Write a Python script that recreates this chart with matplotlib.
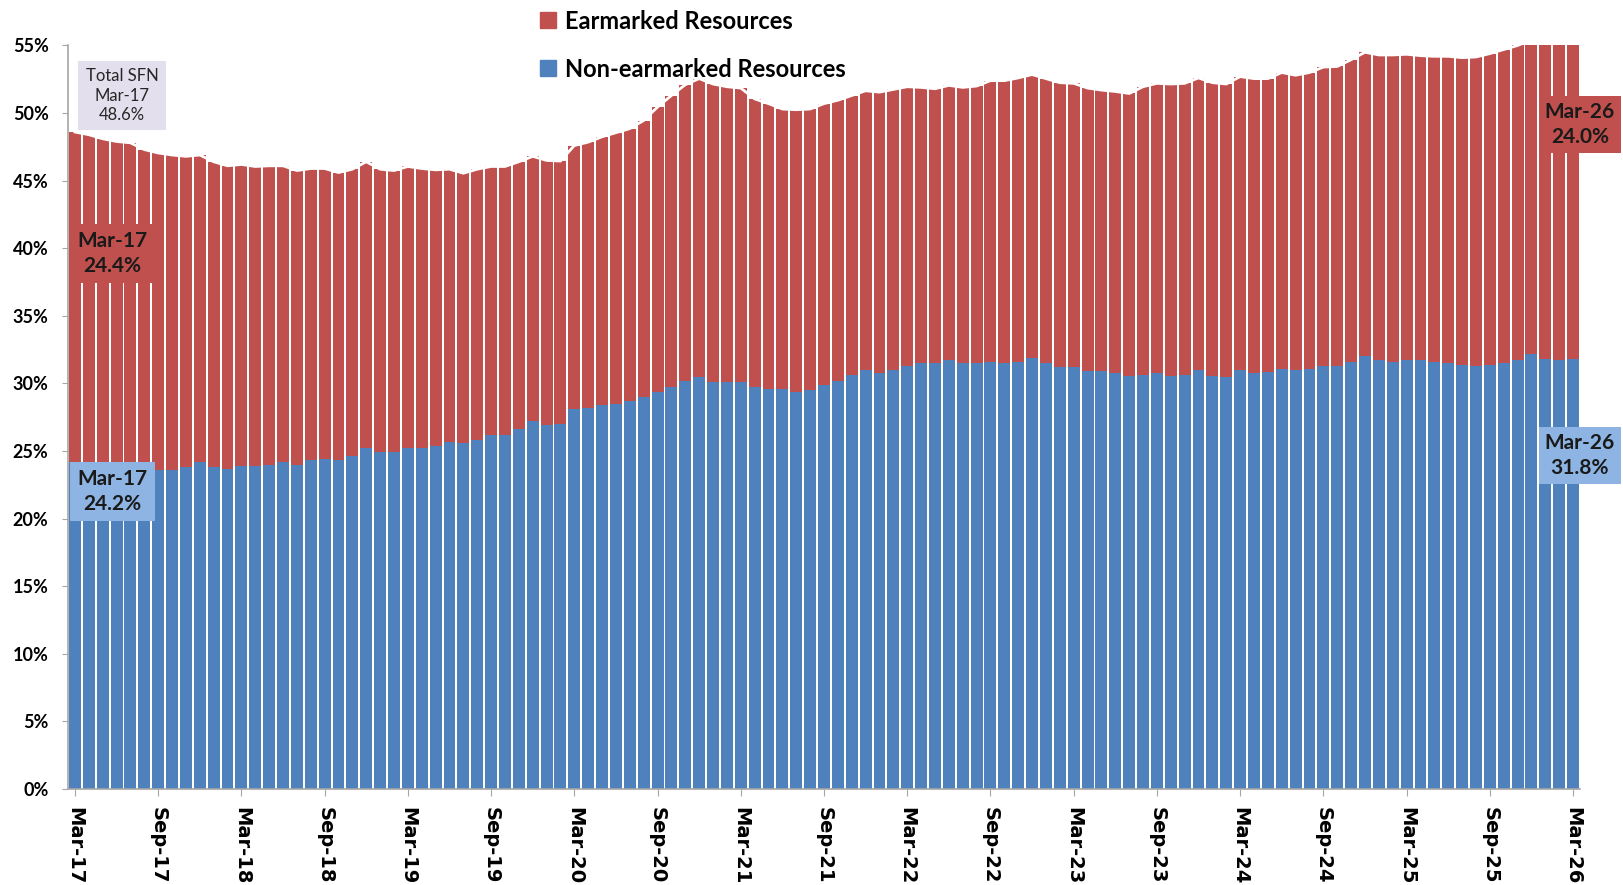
import matplotlib
matplotlib.use("Agg")
import matplotlib.pyplot as plt
from matplotlib.lines import Line2D
import numpy as np
import pandas as pd

# ---------------- data ----------------
months = pd.date_range("2017-03-01", "2026-03-01", freq="MS").strftime("%b-%y").tolist()

non_earmarked = [
    24.2, 24.1, 24.0, 23.9, 23.7, 23.6, 23.6, 23.6, 23.8, 24.2, 23.8, 23.7,
    23.9, 23.9, 24.0, 24.2, 24.0, 24.3, 24.4, 24.3, 24.6, 25.2, 24.9, 24.9,
    25.2, 25.2, 25.4, 25.7, 25.6, 25.8, 26.2, 26.2, 26.6, 27.2, 26.9, 27.0,
    28.1, 28.2, 28.4, 28.5, 28.7, 29.0, 29.4, 29.7, 30.2, 30.5, 30.1, 30.1,
    30.1, 29.7, 29.6, 29.6, 29.4, 29.5, 29.9, 30.2, 30.6, 31.0, 30.8, 31.0,
    31.3, 31.5, 31.5, 31.7, 31.5, 31.5, 31.6, 31.5, 31.6, 31.9, 31.5, 31.2,
    31.2, 30.9, 30.9, 30.8, 30.55, 30.65, 30.75, 30.55, 30.65, 31.0, 30.55, 30.45,
    31.0, 30.75, 30.85, 31.1, 31.0, 31.1, 31.3, 31.3, 31.6, 32.0, 31.7, 31.6,
    31.7, 31.7, 31.6, 31.5, 31.4, 31.3, 31.4, 31.5, 31.7, 32.2, 31.8, 31.7,
    31.8,
]

total_sfn = [
    48.6, 48.4, 48.1, 47.9, 47.8, 47.3, 47.05, 46.9, 46.8, 46.9, 46.4, 46.1,
    46.2, 46.05, 46.1, 46.1, 45.75, 45.9, 45.9, 45.6, 45.85, 46.4, 45.85, 45.75,
    46.05, 45.9, 45.8, 45.85, 45.55, 45.85, 46.05, 46.05, 46.4, 46.8, 46.5, 46.45,
    47.6, 47.85, 48.25, 48.55, 48.85, 49.45, 50.45, 51.3, 52.1, 52.55, 52.15, 51.95,
    51.85, 51.05, 50.7, 50.3, 50.25, 50.3, 50.7, 50.95, 51.3, 51.65, 51.55, 51.75,
    51.95, 51.9, 51.8, 52.05, 51.9, 52.0, 52.4, 52.4, 52.6, 52.85, 52.55, 52.25,
    52.2, 51.85, 51.7, 51.6, 51.45, 51.95, 52.2, 52.15, 52.2, 52.6, 52.25, 52.15,
    52.7, 52.55, 52.55, 53.0, 52.8, 53.0, 53.4, 53.45, 53.95, 54.5, 54.3, 54.3,
    54.35, 54.25, 54.2, 54.2, 54.1, 54.15, 54.4, 54.7, 55.0, 55.4, 55.5, 55.6,
    55.8,
]

earmarked = [round(t - n, 2) for t, n in zip(total_sfn, non_earmarked)]

tick_labels = ["Mar-17", "Sep-17", "Mar-18", "Sep-18", "Mar-19", "Sep-19", "Mar-20",
               "Sep-20", "Mar-21", "Sep-21", "Mar-22", "Sep-22", "Mar-23", "Sep-23",
               "Mar-24", "Sep-24", "Mar-25", "Sep-25", "Mar-26"]
y_ticks = [0, 5, 10, 15, 20, 25, 30, 35, 40, 45, 50, 55]

# ---------------- style ----------------
RED = "#C0504D"
BLUE = "#4F81BD"
LIGHT_BLUE = "#8DB4E2"
LAVENDER = "#E4DFEC"
AXIS_GRAY = "#A6A6A6"

fig = plt.figure(figsize=(16.23, 8.85), dpi=100)
ax = fig.add_axes([0.0419, 0.1085, 0.9316, 0.8401])

x = np.arange(len(months))
ax.bar(x, non_earmarked, width=0.86, color=BLUE, zorder=2)
ax.bar(x, earmarked, bottom=non_earmarked, width=0.86, color=RED, zorder=2)
ax.plot(x, total_sfn, color="white", lw=2.0, zorder=3, solid_joinstyle="round")

ax.set_xlim(-0.5, len(months) - 0.5)
ax.set_ylim(0, 55)

ax.set_yticks(y_ticks)
ax.set_yticklabels([f"{v}%" for v in y_ticks], fontfamily="Lato",
                   fontweight="bold", fontsize=13)
tick_pos = [months.index(t) for t in tick_labels]
ax.set_xticks(tick_pos)
ax.set_xticklabels(tick_labels, rotation=270, fontfamily="DejaVu Sans",
                   fontweight="bold", fontsize=14, ha="center", va="top")

for s in ["top", "right"]:
    ax.spines[s].set_visible(False)
for s in ["left", "bottom"]:
    ax.spines[s].set_color(AXIS_GRAY)
    ax.spines[s].set_linewidth(1.2)
ax.tick_params(axis="y", direction="out", length=4, color=AXIS_GRAY, pad=10)
ax.tick_params(axis="x", direction="out", length=5, color=AXIS_GRAY, pad=8)

# ---------------- annotations ----------------
ax.text(3.4, 51.3, f"Total SFN\n{months[0]}\n{total_sfn[0]:.1f}%", ha="center",
        va="center", fontfamily="Lato", fontsize=12, color="#262626",
        linespacing=1.25, zorder=5,
        bbox=dict(boxstyle="square,pad=0.45", fc=LAVENDER, ec="none"))

ax.text(2.7, 39.6, f"{months[0]}\n{earmarked[0]:.1f}%", ha="center", va="center",
        fontfamily="Lato", fontweight="bold", fontsize=15, color="#1a1a1a",
        linespacing=1.3, zorder=5,
        bbox=dict(boxstyle="square,pad=0.35", fc=RED, ec="none"))

ax.text(2.7, 22.0, f"{months[0]}\n{non_earmarked[0]:.1f}%", ha="center", va="center",
        fontfamily="Lato", fontweight="bold", fontsize=15, color="#1a1a1a",
        linespacing=1.3, zorder=5,
        bbox=dict(boxstyle="square,pad=0.35", fc=LIGHT_BLUE, ec="none"))

ax.text(108.5, 49.15, f"{months[-1]}\n{earmarked[-1]:.1f}%", ha="center", va="center",
        fontfamily="Lato", fontweight="bold", fontsize=15, color="#1a1a1a",
        linespacing=1.3, zorder=5, clip_on=False,
        bbox=dict(boxstyle="square,pad=0.3", fc=RED, ec="none"))

ax.text(108.5, 24.65, f"{months[-1]}\n{non_earmarked[-1]:.1f}%", ha="center",
        va="center", fontfamily="Lato", fontweight="bold", fontsize=15,
        color="#1a1a1a", linespacing=1.3, zorder=5, clip_on=False,
        bbox=dict(boxstyle="square,pad=0.3", fc=LIGHT_BLUE, ec="none"))

# ---------------- legend ----------------
handles = [
    Line2D([], [], marker="s", linestyle="none", markersize=11, color=RED),
    Line2D([], [], marker="s", linestyle="none", markersize=11, color=BLUE),
]
fig.legend(handles, ["Earmarked Resources", "Non-earmarked Resources"],
           loc="upper left", bbox_to_anchor=(0.332, 0.989), frameon=False,
           prop=dict(family="Lato", weight="bold", size=17),
           handlelength=0.8, handletextpad=0.3, labelspacing=1.05,
           borderpad=0, borderaxespad=0)

fig.savefig("out.png", dpi=100)
